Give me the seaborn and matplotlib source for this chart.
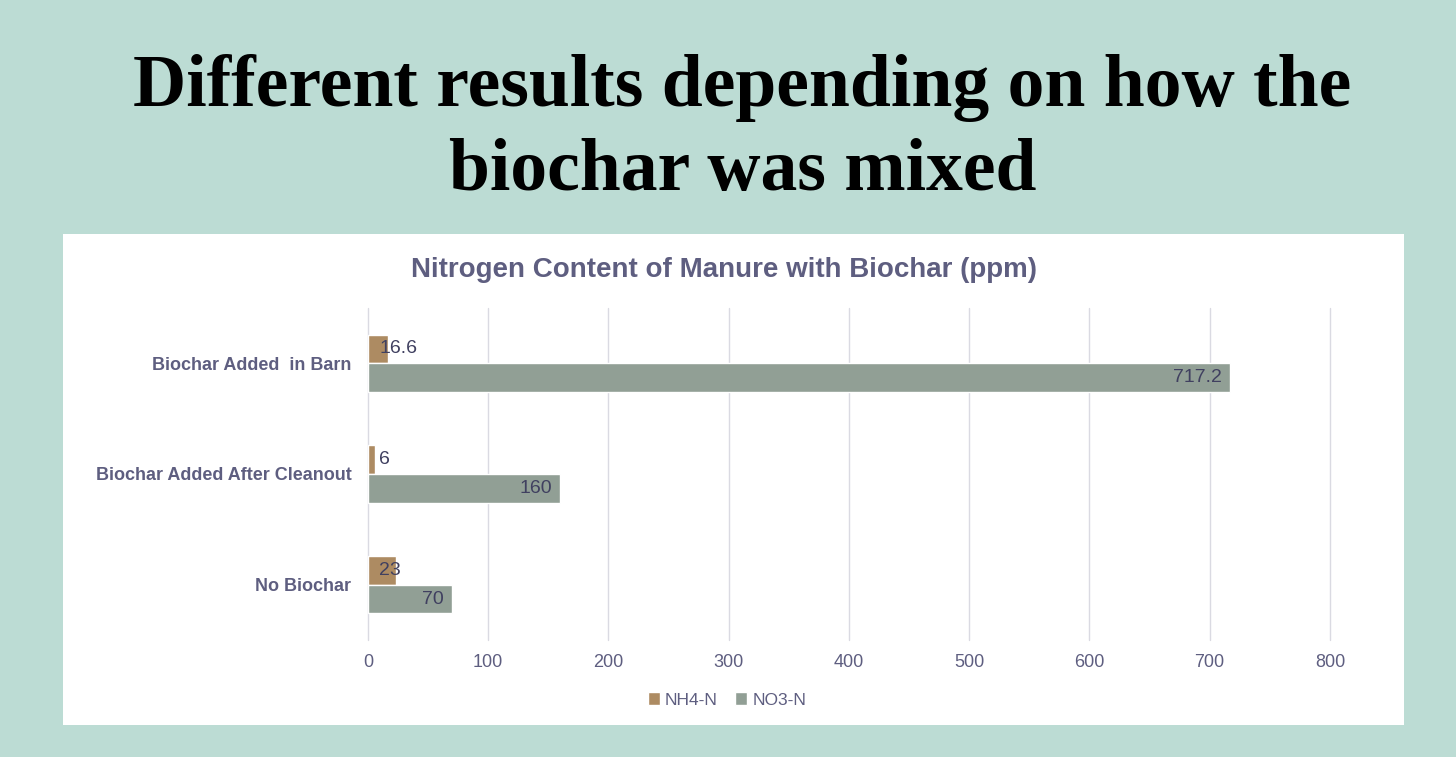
import numpy as np
import pandas as pd
import seaborn as sns
import matplotlib.pyplot as plt
from matplotlib.patches import Rectangle

categories = ['Biochar Added  in Barn', 'Biochar Added After Cleanout', 'No Biochar']
nh4 = [16.6, 6, 23]
no3 = [717.2, 160, 70]
series = ['NH4-N', 'NO3-N']
x_ticks = [0, 100, 200, 300, 400, 500, 600, 700, 800]

df = pd.DataFrame({
    'category': categories * 2,
    'value': nh4 + no3,
    'series': [series[0]] * 3 + [series[1]] * 3,
})

sns.set_style('white')
plt.rcParams['font.family'] = ['Liberation Sans', 'DejaVu Sans']

bg = '#BCDCD4'
txt = '#5E5E80'
colors = ['#AD8B62', '#919F95']

fig = plt.figure(figsize=(14.56, 7.57), dpi=100)
fig.patch.set_facecolor(bg)

# white card behind chart
fig.add_artist(Rectangle((0.0433, 0.0423), 0.921, 0.6486, transform=fig.transFigure,
                         facecolor='white', edgecolor='none', zorder=0))

fig.text(0.51, 0.828, 'Different results depending on how the\nbiochar was mixed',
         ha='center', va='center', fontsize=53, fontweight='bold',
         family=['Liberation Serif', 'DejaVu Serif'], color='black', linespacing=1.3)

fig.text(0.497, 0.643, 'Nitrogen Content of Manure with Biochar (ppm)',
         ha='center', va='center', fontsize=20, fontweight='bold', color=txt)

ax = fig.add_axes([0.2527, 0.1546, 0.6607, 0.4385])
ax.set_facecolor('none')
sns.barplot(data=df, x='value', y='category', hue='series', orient='h',
            palette=colors, width=0.52, order=categories, hue_order=series,
            ax=ax, legend=False, saturation=1)

ax.set_xlim(0, 800)
ax.set_xticks(x_ticks)
ax.set_xticklabels([str(t) for t in x_ticks], fontsize=13, color=txt)
ax.tick_params(axis='y', labelsize=13, labelcolor=txt, length=0, pad=12)
ax.tick_params(axis='x', length=0, pad=10)
for lbl in ax.get_yticklabels():
    lbl.set_fontweight('bold')
ax.set_xlabel('')
ax.set_ylabel('')
ax.grid(axis='x', color='#DADAE2', linewidth=1)
for gl in ax.get_xgridlines():
    gl.set_clip_on(False)
ax.set_axisbelow(True)
for s in ax.spines.values():
    s.set_visible(False)

# data labels
c_nh4, c_no3 = ax.containers[0], ax.containers[1]
for bar, v in zip(c_nh4, nh4):
    yc = bar.get_y() + bar.get_height() / 2
    ax.annotate(f'{v:g}', (0, yc), xytext=(8, 0), textcoords='offset points',
                ha='left', va='center', fontsize=14, color='#404060')
for bar, v in zip(c_no3, no3):
    yc = bar.get_y() + bar.get_height() / 2
    ax.annotate(f'{v:g}', (v, yc), xytext=(-6, 0), textcoords='offset points',
                ha='right', va='center', fontsize=14, color='#404060')

handles = [Rectangle((0, 0), 1, 1, facecolor=c) for c in colors]
fig.legend(handles, series, loc='center', bbox_to_anchor=(727 / 1456, 1 - 700 / 757),
           ncol=2, frameon=False, fontsize=12.5, handlelength=0.7, handleheight=0.7,
           handletextpad=0.3, columnspacing=1.0, labelcolor=txt)

fig.savefig('out.png', dpi=100, facecolor=bg)
